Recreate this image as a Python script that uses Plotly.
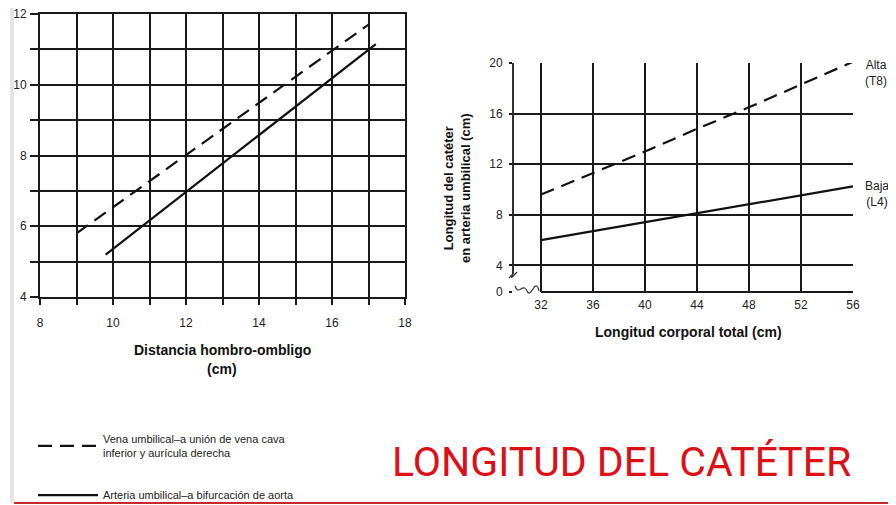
import plotly.graph_objects as go

# The page body has an 8px default margin, so the figure is sized to fit
# the 896x505 window and positions are given in window pixels minus 8.
OFF = 8
W, H = 896 - OFF, 505 - OFF

# ---------------- data ----------------
# Left chart: catheter length vs shoulder-umbilicus distance
vena_x = [9, 17]
vena_y = [5.8, 11.7]
arteria_x = [9.8, 17.2]
arteria_y = [5.2, 11.15]

# Right chart: umbilical artery catheter length vs total body length
body_len = [32, 36, 40, 44, 48, 52, 56]
alta_t8 = [9.6, 11.3, 13.0, 14.8, 16.5, 18.3, 20.1]
baja_l4 = [6.0, 6.7, 7.4, 8.15, 8.8, 9.5, 10.25]

left_xticks = [8, 9, 10, 11, 12, 13, 14, 15, 16, 17, 18]
left_xlabels = ["8", "", "10", "", "12", "", "14", "", "16", "", "18"]
left_yticks = [4, 5, 6, 7, 8, 9, 10, 11, 12]
left_ylabels = ["4", "", "6", "", "8", "", "10", "", "12"]
right_xticks = [32, 36, 40, 44, 48, 52, 56]
right_xlabels = ["32", "36", "40", "44", "48", "52", "56"]
right_yticks = [1.9, 4, 8, 12, 16, 20]
right_ylabels = ["0", "4", "8", "12", "16", "20"]

legend_names = ["Vena umbilical\u2013a unión de vena cava<br>inferior y aurícula derecha",
                "Arteria umbilical\u2013a bifurcación de aorta"]


def px(x):
    return (x - OFF) / W


def py(y):
    return 1 - (y - OFF) / H


SANS = "Liberation Sans, Arial, sans-serif"
TICKFONT = dict(family=SANS, size=12, color="#222")

fig = go.Figure()

dash = "14px,8px"
fig.add_trace(go.Scatter(x=vena_x, y=vena_y, mode="lines", name=legend_names[0],
                         line=dict(color="#111", width=2.2, dash=dash),
                         xaxis="x", yaxis="y", legendgroup="a"))
fig.add_trace(go.Scatter(x=arteria_x, y=arteria_y, mode="lines", name=legend_names[1],
                         line=dict(color="#111", width=2.2),
                         xaxis="x", yaxis="y", legendgroup="b"))
fig.add_trace(go.Scatter(x=body_len, y=alta_t8, mode="lines", name="Alta (T8)",
                         line=dict(color="#111", width=2.2, dash=dash),
                         xaxis="x2", yaxis="y2", showlegend=False))
fig.add_trace(go.Scatter(x=body_len, y=baja_l4, mode="lines", name="Baja (L4)",
                         line=dict(color="#111", width=2.2),
                         xaxis="x2", yaxis="y2", showlegend=False))

grid = dict(showgrid=True, gridcolor="#1a1a1a", gridwidth=1.6, zeroline=False,
            tickfont=TICKFONT, ticks="outside", tickcolor="#1a1a1a", tickwidth=1.6,
            automargin=False, ticklabeloverflow="allow")

fig.update_layout(
    width=W, height=H,
    margin=dict(l=0, r=0, t=0, b=0, autoexpand=False),
    paper_bgcolor="white", plot_bgcolor="white",
    xaxis=dict(domain=[px(40), px(405)], anchor="y", range=[8, 18],
               tickvals=left_xticks, ticktext=left_xlabels, ticklen=6, ticklabelstandoff=8,
               showline=True, linecolor="#1a1a1a", linewidth=1.8, mirror=True, **grid),
    yaxis=dict(domain=[py(297), py(14)], anchor="x", range=[4, 12],
               tickvals=left_yticks, ticktext=left_ylabels, ticklen=8, ticklabelstandoff=1,
               showline=True, linecolor="#1a1a1a", linewidth=1.8, mirror=True, **grid),
    xaxis2=dict(domain=[px(513), px(853)], anchor="y2", range=[29.85, 56],
                tickvals=right_xticks, ticktext=right_xlabels, ticklen=0, ticklabelstandoff=2,
                showline=False, **grid),
    yaxis2=dict(domain=[py(292), py(63)], anchor="x2", range=[1.9, 20],
                tickvals=right_yticks, ticktext=right_ylabels, ticklen=3, ticklabelstandoff=4,
                showline=False, **grid),
    showlegend=True,
    legend=dict(x=px(33), y=py(425), xanchor="left", yanchor="top",
                font=dict(family=SANS, size=11, color="#222"),
                bgcolor="rgba(0,0,0,0)", itemwidth=60, tracegroupgap=24,
                traceorder="grouped"),
)

# right chart frame (with axis break at the bottom-left)
fig.add_shape(type="line", xref="x2 domain", yref="y2", x0=0, x1=0, y0=3.3, y1=20,
              line=dict(color="#1a1a1a", width=1.8))
fig.add_shape(type="line", xref="x2", yref="y2 domain", x0=32, x1=56, y0=0, y1=0,
              line=dict(color="#1a1a1a", width=1.8))
fig.add_shape(type="path", xref="paper", yref="paper",
              path=f"M{px(509)},{py(278)} Q{px(514)},{py(272)} {px(512)},{py(276)} T{px(517)},{py(272)}",
              line=dict(color="#333", width=1.2))
fig.add_shape(type="path", xref="paper", yref="paper",
              path=(f"M{px(515)},{py(286)} Q{px(517)},{py(292)} {px(521)},{py(289)} "
                    f"T{px(527)},{py(291)} T{px(533)},{py(289)} T{px(539)},{py(291)}"),
              line=dict(color="#333", width=1.2))

# bottom red rule and scan edge
fig.add_shape(type="line", xref="paper", yref="paper", x0=px(14), x1=1, y0=py(503), y1=py(503),
              line=dict(color="#c8282a", width=2.2))
fig.add_shape(type="line", xref="paper", yref="paper", x0=px(12), x1=px(12), y0=py(8), y1=py(502),
              line=dict(color="#e4e4e4", width=4))

ann = []
ann.append(dict(text="<b>Distancia hombro-ombligo</b>", x=px(222), y=py(350),
                font=dict(family=SANS, size=14, color="#111")))
ann.append(dict(text="<b>(cm)</b>", x=px(222), y=py(369),
                font=dict(family=SANS, size=14, color="#111")))
ann.append(dict(text="<b>Longitud corporal total (cm)</b>", x=px(688), y=py(332),
                font=dict(family=SANS, size=14, color="#111")))
ann.append(dict(text="<b>Longitud del catéter<br>en arteria umbilical (cm)</b>", x=px(457), y=py(188),
                textangle=-90, font=dict(family=SANS, size=13, color="#111")))
ann.append(dict(text="Alta<br>(T8)", x=px(876), y=py(73), align="center",
                font=dict(family=SANS, size=12, color="#222")))
ann.append(dict(text="Baja<br>(L4)", x=px(877), y=py(194), align="center",
                font=dict(family=SANS, size=12, color="#222")))
ann.append(dict(text="LONGITUD DEL CATÉTER", x=px(621), y=py(462),
                font=dict(family="Roboto, sans-serif", size=41, color="#dd1018")))
for a in ann:
    a.update(xref="paper", yref="paper", showarrow=False, xanchor="center", yanchor="middle")
fig.update_layout(annotations=ann)

fig.write_html("out.html")
